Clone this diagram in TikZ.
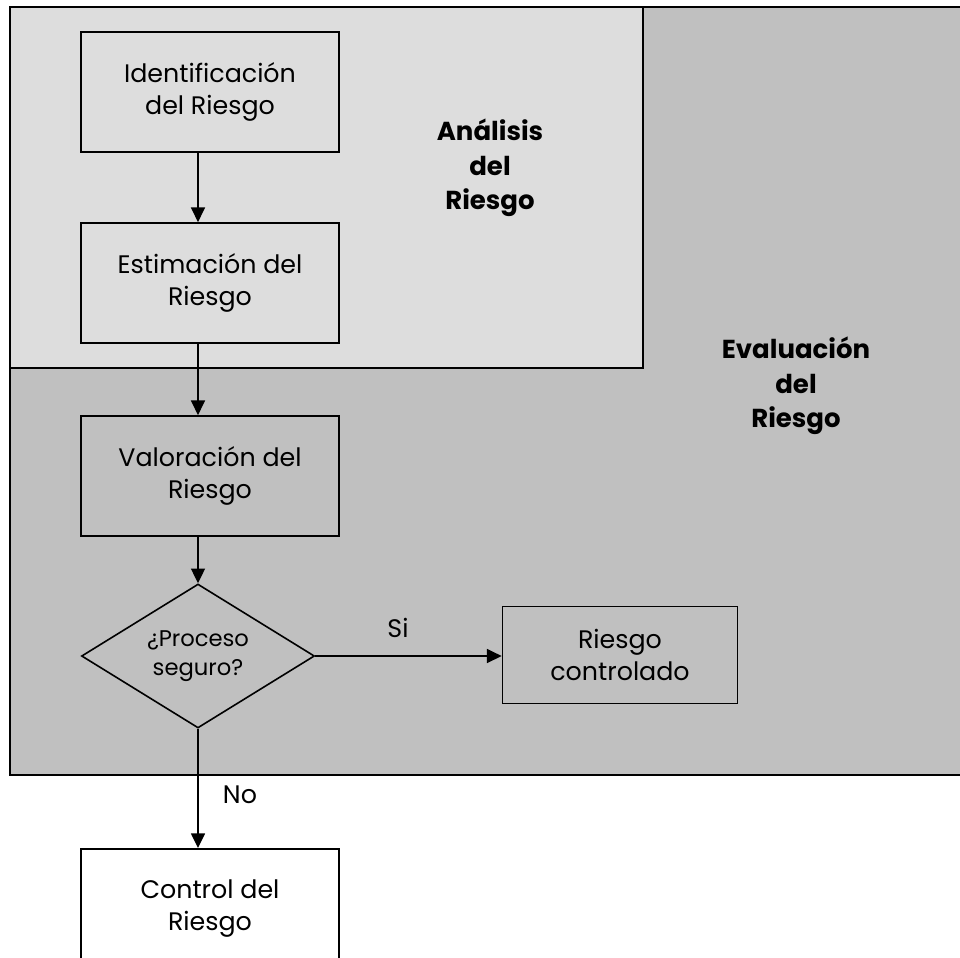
\documentclass[tikz,border=0pt]{standalone}
\usepackage{fontspec}
\setmainfont{Poppins}
\usepackage{tikz}
\usetikzlibrary{positioning}
\usetikzlibrary{shapes.geometric}
\usetikzlibrary{arrows.meta}
\definecolor{analisisgray}{HTML}{DDDDDD}
\definecolor{evalgray}{HTML}{C0C0C0}

\begin{document}
\begin{tikzpicture}[x=0.75pt, y=-0.75pt, line join=miter,
    stepbox/.style={draw, line width=1.3pt, minimum width=193.5pt, minimum height=90pt,
        align=center, font=\fontsize{19}{24}\selectfont},
    decision/.style={draw, diamond, line width=1.2pt, aspect=1.6, inner sep=0pt,
        minimum width=174.75pt, minimum height=108pt,
        align=center, font=\fontsize{17}{21.75}\selectfont},
    region/.style={align=center, font=\bfseries\fontsize{19.5}{26}\selectfont},
    flow/.style={line width=1.1pt, -{Triangle[length=11pt, width=10.5pt]}}]
            \useasboundingbox (0,0) rectangle (960,957);
            \clip (0,0) rectangle (960,957);

            % evaluation region (dark) and analysis region (light)
            \filldraw[fill=evalgray, line width=1.5pt] (10,7) rectangle (980,775);
            \filldraw[fill=analisisgray, line width=1.5pt] (10,7) rectangle (643,368);

            % region titles
            \node[region] (analisis) at (490,168) {Análisis\\del\\Riesgo};
            \node[region] (evaluacion) at (796,386) {Evaluación\\del\\Riesgo};

            % steps
            \node[stepbox] (ident) at (210,92) {Identificación\\del Riesgo};
            \node[stepbox] (estim) at (210,283) {Estimación del\\Riesgo};
            \node[stepbox] (valor) at (210,476) {Valoración del\\Riesgo};
            \node[decision] (dia) at (198,656) {¿Proceso\\seguro?};
            \node[stepbox, minimum width=176.25pt, minimum height=72.75pt] (ok) at (620,655) {Riesgo\\controlado};
            \node[stepbox, fill=white, anchor=north] (control) at (210,848) {Control del\\Riesgo};

            % connectors
            \draw[flow] (ident.south -| dia) -- (estim.north -| dia);
            \draw[flow] (estim.south -| dia) -- (valor.north -| dia);
            \draw[flow] (valor.south -| dia) -- (dia.north);
            \draw[flow] (dia.east) -- (ok.west |- dia);
            \draw[flow] (dia.south) -- (control.north -| dia);

            % answers
            \node[font=\fontsize{19}{24}\selectfont] (si) at (398,628) {Si};
            \node[font=\fontsize{19}{24}\selectfont] (no) at (240,795) {No};
        \end{tikzpicture}
\end{document}
